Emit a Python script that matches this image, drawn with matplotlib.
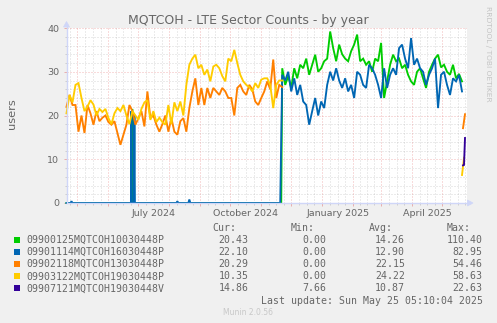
import numpy as np
import pandas as pd
import matplotlib
matplotlib.use("Agg")
import matplotlib.pyplot as plt
from matplotlib.patches import Rectangle, Polygon
from matplotlib.transforms import blended_transform_factory

# ---------------------------------------------------------------- data
START = pd.Timestamp("2024-04-20")
SPAN_DAYS = 401
STEP = 3  # days between samples in the main series

series_names = [
    "09900125MQTCOH10030448P",
    "09901114MQTCOH16030448P",
    "09902118MQTCOH13030448P",
    "09903122MQTCOH19030448P",
    "09907121MQTCOH19030448V",
]
series_colors = ["#00CC00", "#0066B3", "#FF8000", "#FFCC00", "#330099"]

cur_vals = [20.43, 22.10, 20.29, 10.35, 14.86]
min_vals = [0.00, 0.00, 0.00, 0.00, 7.66]
avg_vals = [14.26, 12.90, 22.15, 24.22, 10.87]
max_vals = [110.40, 82.95, 54.46, 58.63, 22.63]

# 09903122 (yellow), day 0 .. 216
yellow_first_day = 0
yellow_main = [
    20.5, 24.7, 23.0, 27.0, 27.4, 24.0, 21.0, 22.0, 23.5, 22.5,
    20.0, 21.5, 20.8, 21.5, 19.4, 18.0, 20.5, 21.7, 21.0, 22.4,
    20.0, 18.0, 21.0, 20.0, 19.0, 21.5, 23.0, 23.5, 19.0, 21.0,
    18.5, 19.5, 18.5, 17.9, 22.4, 18.0, 23.0, 21.0, 23.2, 20.0,
    27.0, 31.6, 33.0, 33.9, 30.8, 31.6, 29.3, 30.5, 27.8, 31.2,
    31.6, 30.8, 29.0, 27.8, 33.0, 32.4, 35.0, 32.0, 29.3, 27.8,
    27.0, 26.5, 25.5, 27.4, 26.3, 28.2, 28.5, 28.5, 27.0, 21.7,
    27.0, 28.0, 28.0,
]
# 09902118 (orange), day 0 .. 216
orange_first_day = 0
orange_main = [
    22.0, 24.7, 22.4, 22.4, 16.3, 20.0, 16.0, 22.4, 20.5, 17.9,
    21.0, 18.7, 19.5, 20.0, 18.5, 17.9, 18.7, 16.0, 13.3, 15.6,
    17.9, 22.4, 21.0, 17.9, 19.4, 21.0, 17.5, 25.5, 19.4, 20.0,
    17.9, 16.3, 18.0, 20.0, 16.3, 19.4, 16.3, 15.6, 18.7, 19.4,
    16.3, 21.7, 25.5, 28.5, 22.4, 26.3, 22.4, 26.3, 24.0, 26.3,
    25.5, 24.7, 26.3, 25.5, 24.0, 24.0, 20.0, 26.3, 27.0, 25.5,
    24.7, 27.0, 26.0, 23.2, 22.4, 24.0, 25.5, 27.8, 26.0, 32.8,
    24.0, 27.0, 26.5,
]
# 09900125 (green), day 216 .. 396
green_first_day = 216
green_main = [
    30.8, 27.0, 29.0, 26.3, 30.8, 28.5, 31.6, 30.8, 33.0, 29.3,
    31.6, 33.9, 30.0, 30.8, 32.4, 33.0, 39.2, 35.4, 32.4, 36.2,
    34.0, 33.0, 32.4, 34.7, 36.2, 38.5, 32.4, 33.0, 31.6, 32.4,
    30.0, 33.0, 32.4, 36.6, 24.0, 27.8, 31.6, 33.9, 32.4, 33.0,
    30.8, 31.6, 29.3, 27.8, 27.0, 30.0, 30.8, 28.5, 26.3, 30.0,
    31.6, 33.0, 33.9, 31.0, 31.6, 30.0, 29.3, 31.6, 28.5, 29.5,
    27.8,
]
# 09901114 (blue), day 216 .. 396
blue_first_day = 216
blue_main = [
    29.3, 28.0, 30.0, 25.5, 28.5, 24.7, 27.0, 23.2, 22.4, 17.9,
    21.0, 24.0, 20.0, 23.2, 21.7, 27.0, 30.0, 28.0, 30.8, 28.0,
    26.3, 28.5, 25.5, 27.0, 24.0, 30.0, 29.3, 27.0, 26.3, 31.6,
    30.8, 29.3, 27.0, 24.0, 30.8, 26.3, 29.3, 30.8, 29.3, 35.4,
    36.2, 33.0, 30.8, 37.7, 31.6, 33.0, 30.8, 30.0, 27.0, 29.3,
    30.8, 33.0, 21.7, 29.3, 30.0, 27.0, 24.7, 28.5, 27.8, 29.3,
    25.5,
]

# daily readings before the green/blue sectors came up
green_early_days = [0, 65, 66, 67, 215]
green_early = [0.0, 0.0, 21.5, 0.0, 0.0]
blue_early_days = [0, 4, 5, 6, 64.5, 65, 65.5, 67.5, 68, 68.5, 110, 111, 112, 122, 123, 124, 214]
blue_early = [0.0, 0.0, 0.4, 0.0, 0.0, 21.0, 0.0, 0.0, 20.0, 0.0, 0.0, 0.4, 0.0, 0.0, 0.8, 0.0, 0.0]

# last few daily readings
orange_tail_days = [397, 399]
orange_tail = [17.1, 20.29]
yellow_tail_days = [396, 397, 398]
yellow_tail = [6.4, 8.3, 10.35]
purple_tail_days = [397, 398, 399]
purple_tail = [8.6, 8.7, 14.86]

x_labels = ["July 2024", "October 2024", "January 2025", "April 2025"]
x_label_months = ["2024-07-01", "2024-10-01", "2025-01-01", "2025-04-01"]
y_ticks = [0, 10, 20, 30, 40]


# ---------------------------------------------------------------- helpers
def to_dates(days):
    return START + pd.to_timedelta(np.asarray(days, dtype=float), unit="D")


def regular(first_day, values):
    days = first_day + STEP * np.arange(len(values))
    return list(days), list(values)


def joined(*parts):
    """Concatenate (days, values) parts; None inserts a gap."""
    d_all, v_all = [], []
    for p in parts:
        if p is None:
            d_all.append(d_all[-1] + 0.5)
            v_all.append(np.nan)
        else:
            d_all.extend(p[0])
            v_all.extend(p[1])
    return to_dates(d_all), np.array(v_all, dtype=float)


green_x, green_y = joined((green_early_days, green_early), regular(green_first_day, green_main))
blue_x, blue_y = joined((blue_early_days, blue_early), regular(blue_first_day, blue_main))
orange_x, orange_y = joined(regular(orange_first_day, orange_main), None, (orange_tail_days, orange_tail))
yellow_x, yellow_y = joined(regular(yellow_first_day, yellow_main), None, (yellow_tail_days, yellow_tail))
purple_x, purple_y = joined((purple_tail_days, purple_tail))

# ---------------------------------------------------------------- figure
W, H = 497, 323
FONT = "#666666"
AXIS = "#CFD6F8"
MGRID = (0.87, 0.31, 0.31, 0.40)
GRID = (0.56, 0.56, 0.56, 0.35)

fig = plt.figure(figsize=(W / 100, H / 100), dpi=100, facecolor="#F0F0F0")


def fx(px):
    return px / W


def fy(py):
    return 1 - py / H


L, R, T, B = 66.5, 467.0, 28.0, 203.0
ax = fig.add_axes([fx(L), fy(B), fx(R) - fx(L), fy(T) - fy(B)])
ax.set_facecolor("white")
end = START + pd.Timedelta(days=SPAN_DAYS)
ax.set_xlim(START, end)
ax.set_ylim(0, 40)
for s in ax.spines.values():
    s.set_visible(False)

# grid
dot = (0, (1, 2))
month_starts = pd.date_range(START, end, freq="MS")
minor_x = []
for m in pd.date_range(START - pd.offsets.MonthBegin(1), end, freq="MS"):
    n = m.days_in_month
    for k in (1, 2, 3):
        t = m + pd.Timedelta(days=n * k / 4)
        if START < t < end:
            minor_x.append(t)
for t in minor_x:
    ax.axvline(t, color=GRID, lw=0.72, ls=dot, zorder=0.5)
for t in month_starts:
    ax.axvline(t, color=MGRID, lw=0.72, ls=dot, zorder=0.6)
for v in range(2, 41, 2):
    ax.axhline(v, color=MGRID if v % 10 == 0 else GRID, lw=0.72, ls=dot,
               zorder=0.6 if v % 10 == 0 else 0.5)

ax.set_xticks(month_starts)
ax.set_xticklabels([])
ax.set_xticks(minor_x, minor=True)
ax.set_yticks(y_ticks)
ax.set_yticklabels([str(v) for v in y_ticks])
ax.set_yticks(range(2, 40, 2), minor=True)
ax.tick_params(axis="x", which="major", length=2.2, width=0.72, color=MGRID, direction="out")
ax.tick_params(axis="x", which="minor", length=1.5, width=0.72, color=GRID, direction="out")
ax.tick_params(axis="y", which="major", length=2.2, width=0.72, color=MGRID, direction="out",
               labelsize=6.8, labelcolor=FONT, pad=3.0)
ax.tick_params(axis="y", which="minor", length=1.5, width=0.72, color=GRID, direction="out")

# axis lines and arrows
fig.add_artist(plt.Line2D([fx(L), fx(470)], [fy(B), fy(B)], color=AXIS, lw=1.0, zorder=1))
fig.add_artist(plt.Line2D([fx(L), fx(L)], [fy(B), fy(24)], color=AXIS, lw=1.0, zorder=1))
fig.add_artist(Polygon([[fx(467.5), fy(200)], [fx(467.5), fy(206)], [fx(473), fy(203)]],
                       closed=True, facecolor=AXIS, edgecolor=AXIS, lw=0.5))
fig.add_artist(Polygon([[fx(63.5), fy(27)], [fx(69.5), fy(27)], [fx(66.5), fy(21.5)]],
                       closed=True, facecolor=AXIS, edgecolor=AXIS, lw=0.5))

# data lines
LW = 1.35
for xs, ys, c in [(green_x, green_y, series_colors[0]),
                  (blue_x, blue_y, series_colors[1]),
                  (orange_x, orange_y, series_colors[2]),
                  (yellow_x, yellow_y, series_colors[3]),
                  (purple_x, purple_y, series_colors[4])]:
    ax.plot(xs, ys, color=c, lw=LW, solid_joinstyle="miter", zorder=3, clip_on=False)

# month labels centred on the middle of their month
btf = blended_transform_factory(ax.transData, fig.transFigure)
for lab, m in zip(x_labels, x_label_months):
    mid = pd.Timestamp(m) + pd.Timedelta(days=15.5)
    ax.text(mid, fy(215.5), lab, transform=btf, ha="center", va="baseline",
            fontsize=6.8, color=FONT)

# titles
fig.text(fx(248), fy(24), "MQTCOH - LTE Sector Counts - by year", ha="center",
         va="baseline", fontsize=9, color=FONT)
fig.text(fx(11.5), fy(114), "users", rotation=90, ha="center", va="center",
         fontsize=8.2, color=FONT)
fig.text(fx(488), fy(53.5), "RRDTOOL / TOBI OETIKER", rotation=270, ha="center",
         va="center", fontsize=5.4, color="#C4C4C4")

# legend
MONO = "DejaVu Sans Mono"
LFS = 7.1
col_right = [248.3, 326.7, 405.0, 482.7]
headers = ["Cur:", "Min:", "Avg:", "Max:"]
head_base = 230.6
for h, xr in zip(headers, col_right):
    fig.text(fx(xr - 12), fy(head_base), h, ha="right", va="baseline",
             family=MONO, fontsize=LFS, color=FONT)

row0, dy = 242.8, 12.17
for i, name in enumerate(series_names):
    base = row0 + i * dy
    fig.add_artist(Rectangle((fx(14), fy(base)), fx(6), 6 / H,
                             facecolor=series_colors[i], edgecolor="none"))
    fig.text(fx(26.7), fy(base), name, ha="left", va="baseline",
             family=MONO, fontsize=LFS, color=FONT)
    for vals, xr in zip([cur_vals, min_vals, avg_vals, max_vals], col_right):
        fig.text(fx(xr), fy(base), f"{vals[i]:.2f}", ha="right", va="baseline",
                 family=MONO, fontsize=LFS, color=FONT)

fig.text(fx(482.7), fy(304), "Last update: Sun May 25 05:10:04 2025", ha="right",
         va="baseline", family=MONO, fontsize=LFS, color=FONT)
fig.text(fx(248), fy(315), "Munin 2.0.56", ha="center", va="baseline",
         fontsize=5.5, color="#C8C8C8")

fig.savefig("out.png", dpi=100, facecolor=fig.get_facecolor())
